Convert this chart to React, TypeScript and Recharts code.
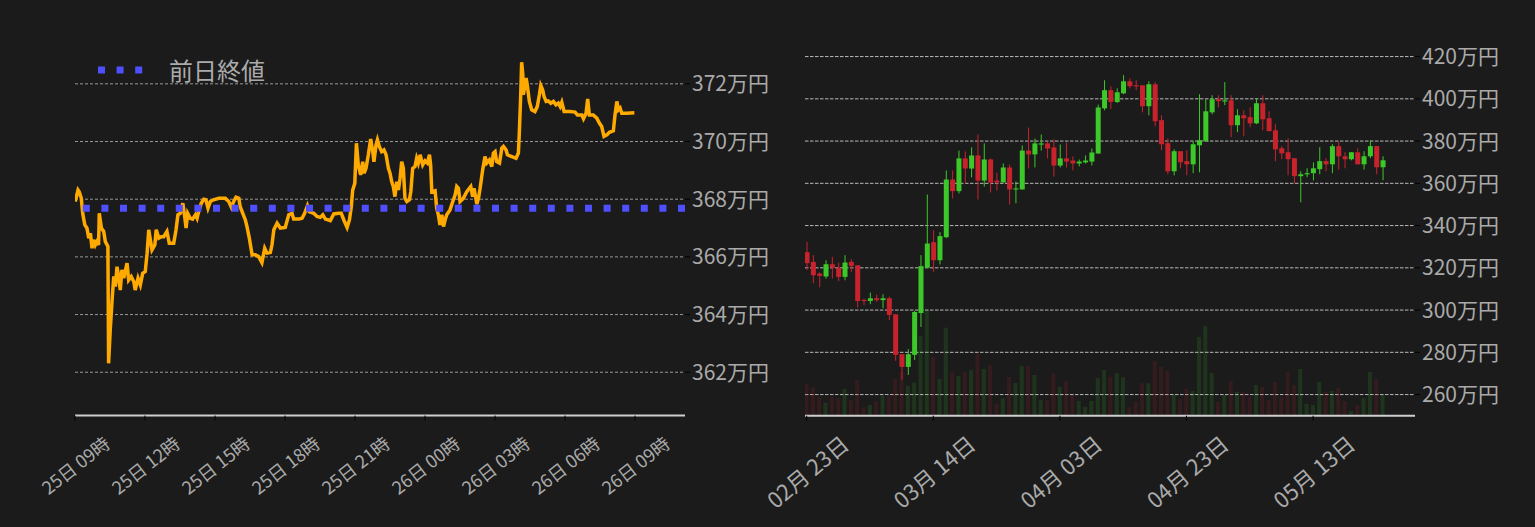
import React from 'react';
import {
  LineChart, Line, ComposedChart, Bar, XAxis, YAxis, CartesianGrid, ReferenceLine, Legend,
} from 'recharts';

// ---------- Left chart: intraday price (hours since 25日 09時) ----------
const intradayHours = [
  0.01, 0.13, 0.18, 0.27, 0.33, 0.42, 0.51, 0.59, 0.66, 0.73,
  0.80, 0.87, 0.94, 1.01, 1.04, 1.13, 1.23, 1.30, 1.41, 1.44,
  1.51, 1.59, 1.66, 1.73, 1.80, 1.87, 1.94, 2.01, 2.09, 2.23,
  2.30, 2.41, 2.52, 2.58, 2.70, 2.80, 2.90, 3.01, 3.09, 3.16,
  3.23, 3.30, 3.42, 3.48, 3.59, 3.70, 3.80, 3.94, 4.04, 4.23,
  4.33, 4.41, 4.51, 4.62, 4.70, 4.76, 4.83, 4.94, 5.04, 5.16,
  5.23, 5.30, 5.41, 5.52, 5.61, 5.70, 5.80, 5.94, 6.16, 6.44,
  6.59, 6.70, 6.80, 6.90, 7.02, 7.08, 7.19, 7.30, 7.37, 7.47,
  7.59, 7.73, 7.87, 8.01, 8.13, 8.23, 8.37, 8.44, 8.52, 8.66,
  8.80, 9.01, 9.16, 9.30, 9.37, 9.59, 9.73, 9.84, 9.96, 10.04,
  10.23, 10.37, 10.51, 10.62, 10.73, 10.94, 11.09, 11.30, 11.41, 11.52,
  11.66, 11.76, 11.84, 11.90, 11.99, 12.06, 12.14, 12.24, 12.33, 12.39,
  12.47, 12.57, 12.67, 12.76, 12.81, 12.90, 12.96, 13.04, 13.14, 13.24,
  13.33, 13.43, 13.50, 13.57, 13.64, 13.71, 13.79, 13.86, 13.93, 14.00,
  14.07, 14.14, 14.22, 14.33, 14.39, 14.47, 14.57, 14.64, 14.71, 14.79,
  14.90, 15.00, 15.10, 15.19, 15.24, 15.29, 15.43, 15.50, 15.57, 15.64,
  15.72, 15.79, 15.86, 15.93, 16.07, 16.19, 16.29, 16.36, 16.43, 16.50,
  16.64, 16.79, 16.90, 16.96, 17.04, 17.10, 17.22, 17.29, 17.36, 17.47,
  17.57, 17.64, 17.76, 17.86, 17.93, 18.00, 18.07, 18.19, 18.29, 18.36,
  18.47, 18.53, 18.72, 18.90, 19.00, 19.04, 19.10, 19.14, 19.19, 19.21,
  19.29, 19.33, 19.38, 19.47, 19.57, 19.71, 19.81, 19.90, 19.96, 20.04,
  20.10, 20.19, 20.28, 20.39, 20.50, 20.61, 20.71, 20.79, 20.86, 20.96,
  21.21, 21.43, 21.53, 21.72, 21.79, 21.90, 21.97, 22.04, 22.21, 22.36,
  22.47, 22.57, 22.67, 22.79, 22.90, 23.07, 23.14, 23.22, 23.29, 23.36,
  23.43, 23.64, 23.97,
];
const intradayPrice = [
  367.92, 368.32, 368.26, 368.03, 367.51, 367.11, 367.00, 366.65, 366.82, 366.30,
  366.59, 366.41, 366.53, 366.41, 367.51, 367.00, 366.88, 366.53, 366.36, 362.31,
  363.47, 364.50, 365.32, 364.97, 365.66, 365.32, 364.85, 365.55, 365.26, 365.78,
  365.20, 365.32, 365.14, 364.85, 365.26, 365.03, 365.43, 365.49, 366.13, 366.94,
  366.59, 366.24, 366.41, 366.94, 366.65, 366.70, 366.70, 366.88, 366.47, 366.47,
  366.94, 367.46, 367.51, 367.86, 367.40, 367.00, 367.51, 367.34, 367.31, 367.46,
  367.34, 367.57, 367.86, 368.00, 367.98, 367.69, 367.92, 367.98, 368.03, 368.03,
  367.92, 367.72, 367.92, 368.07, 368.03, 367.74, 367.51, 367.28, 367.05, 366.65,
  366.07, 366.07, 366.01, 365.80, 366.30, 366.13, 366.15, 366.41, 366.94, 367.17,
  367.00, 367.02, 367.46, 367.51, 367.31, 367.31, 367.34, 367.51, 367.77, 367.57,
  367.51, 367.40, 367.37, 367.46, 367.31, 367.26, 367.49, 367.51, 367.51, 367.28,
  367.02, 367.28, 367.74, 368.32, 368.55, 369.94, 369.19, 368.84, 369.30, 368.90,
  369.07, 369.54, 370.09, 369.65, 369.30, 369.88, 370.06, 369.83, 369.65, 369.71,
  369.54, 369.07, 368.90, 368.61, 368.44, 368.09, 368.61, 368.32, 368.73, 369.30,
  369.07, 368.03, 367.92, 367.98, 368.26, 369.07, 369.13, 369.42, 369.25, 369.54,
  369.19, 369.33, 369.25, 369.54, 369.19, 368.26, 368.29, 367.69, 367.46, 367.11,
  367.46, 367.05, 367.28, 367.46, 367.63, 367.92, 368.15, 368.44, 368.38, 367.92,
  368.03, 368.26, 368.38, 368.44, 368.09, 368.38, 367.83, 368.03, 368.38, 369.02,
  369.48, 369.25, 369.36, 369.13, 369.60, 369.65, 369.30, 369.25, 369.77, 369.83,
  369.71, 369.54, 369.48, 369.42, 369.60, 370.29, 371.62, 372.75, 372.32, 371.62,
  371.97, 372.20, 371.97, 371.39, 371.10, 371.04, 371.21, 371.62, 371.94, 371.79,
  371.56, 371.39, 371.41, 371.33, 371.39, 371.27, 371.33, 371.21, 371.36, 371.04,
  371.04, 371.02, 370.92, 370.92, 370.79, 370.98, 371.48, 370.92, 370.92, 370.81,
  370.64, 370.52, 370.18, 370.23, 370.32, 370.37, 370.92, 371.39, 371.10, 371.16,
  370.98, 370.98, 371.00,
];
const prevClose = 367.69;
const hourTicks = [0, 3, 6, 9, 12, 15, 18, 21, 24];
const hourLabels = ['25日 09時', '25日 12時', '25日 15時', '25日 18時', '25日 21時', '26日 00時', '26日 03時', '26日 06時', '26日 09時'];
const intradayPriceTicks = [362, 364, 366, 368, 370, 372];

// ---------- Right chart: daily candles (day index since 02月 23日) ----------
const candleOpen = [
  327.4, 322.8, 317.3, 315.9, 321.7, 320.1, 315.7, 322.8, 321.2, 304.8,
  304.3, 305.6, 304.7, 305.6, 298.0, 279.1, 273.1, 278.8, 298.6, 320.1,
  332.1, 323.6, 334.5, 361.8, 356.3, 371.8, 367.0, 373.2, 361.3, 371.3,
  361.3, 360.4, 367.5, 357.4, 357.1, 375.5, 373.7, 378.5, 378.9, 377.0,
  368.4, 371.8, 370.8, 369.4, 369.9, 370.3, 374.1, 395.5, 404.1, 398.5,
  402.6, 408.3, 406.4, 406.4, 396.5, 406.9, 389.9, 379.0, 365.7, 375.2,
  370.5, 369.0, 378.0, 379.9, 393.6, 399.8, 398.9, 399.3, 387.5, 392.2,
  391.3, 388.4, 397.9, 390.8, 385.1, 376.6, 374.7, 371.9, 363.4, 364.3,
  364.8, 366.7, 370.5, 369.0, 377.6, 372.8, 371.4, 374.7, 369.0, 372.8,
  377.6, 367.6,
];
const candleClose = [
  322.2, 316.5, 316.2, 321.7, 320.1, 315.7, 322.5, 320.9, 304.3, 304.3,
  305.6, 304.7, 305.6, 297.7, 278.8, 273.1, 279.1, 299.1, 320.8, 331.5,
  323.6, 335.0, 361.8, 356.3, 371.8, 367.0, 373.2, 361.3, 371.3, 360.4,
  360.4, 367.5, 357.1, 357.6, 375.5, 373.7, 378.9, 378.9, 376.5, 368.4,
  371.8, 370.3, 369.4, 370.3, 370.8, 374.6, 395.9, 404.1, 398.5, 403.1,
  408.3, 406.0, 406.0, 396.5, 406.9, 389.4, 378.5, 365.7, 375.2, 370.0,
  369.0, 378.5, 380.4, 394.1, 399.8, 398.9, 399.3, 387.5, 392.2, 390.8,
  388.4, 397.9, 390.3, 384.7, 376.1, 374.2, 371.4, 363.4, 364.3, 364.8,
  367.1, 370.5, 369.0, 377.6, 372.8, 371.4, 374.7, 369.0, 372.8, 377.6,
  367.6, 370.9,
];
const candleHigh = [
  332.3, 326.0, 317.8, 323.6, 325.2, 322.5, 326.0, 324.1, 321.2, 305.4,
  308.3, 307.3, 307.5, 306.4, 298.0, 279.1, 281.5, 299.6, 326.0, 354.7,
  337.8, 336.9, 366.1, 366.1, 375.5, 375.1, 377.0, 383.1, 378.9, 371.8,
  365.1, 369.4, 368.9, 360.9, 377.9, 386.4, 381.2, 383.1, 379.6, 380.8,
  378.4, 379.3, 372.7, 371.3, 373.2, 376.5, 397.3, 408.8, 406.0, 405.0,
  411.2, 409.7, 408.8, 406.4, 408.3, 407.9, 392.2, 381.3, 376.1, 375.2,
  375.7, 379.9, 402.2, 399.8, 401.7, 401.7, 407.9, 401.7, 395.1, 394.6,
  396.0, 400.3, 401.7, 394.1, 388.0, 377.6, 381.3, 371.9, 365.7, 367.1,
  369.9, 377.1, 371.9, 378.5, 379.9, 374.7, 374.7, 376.6, 375.2, 380.4,
  377.6, 372.8,
];
const candleLow = [
  319.0, 312.7, 310.8, 314.9, 314.9, 313.7, 314.1, 318.1, 301.2, 302.3,
  302.8, 303.9, 300.9, 295.3, 276.0, 267.0, 269.3, 276.4, 292.0, 320.0,
  318.1, 321.6, 334.0, 352.8, 355.2, 359.9, 362.8, 352.3, 358.5, 355.7,
  356.6, 360.4, 350.0, 350.6, 357.1, 367.0, 367.5, 375.5, 371.8, 363.2,
  367.5, 367.5, 366.1, 368.0, 369.4, 368.4, 374.1, 394.6, 395.2, 398.0,
  402.2, 405.0, 404.1, 393.6, 392.2, 387.0, 375.7, 364.3, 363.8, 367.1,
  363.8, 364.8, 365.2, 379.9, 392.7, 396.0, 397.0, 381.8, 384.2, 382.3,
  386.5, 388.0, 385.1, 384.7, 370.5, 371.4, 363.8, 360.0, 351.0, 362.9,
  361.4, 364.3, 365.7, 364.8, 366.5, 367.1, 370.9, 369.0, 366.5, 371.9,
  364.3, 361.5,
];
const candleVolume = [
  31.7, 28.4, 19, 13, 19, 17.4, 26.7, 15.7, 35.7, 8.4,
  10.7, 14.7, 20, 20, 36.7, 44, 30, 33, 79.7, 105.7,
  59, 36.7, 88, 43.4, 39.7, 43.4, 45.7, 62.4, 46.7, 50.7,
  11.7, 17.4, 38.7, 32.7, 49.7, 49.7, 40.7, 15.7, 15.7, 42.4,
  29, 34.7, 20.7, 14.7, 9, 14.7, 37.7, 45.7, 39, 42.4,
  38.4, 8.4, 13.7, 32.4, 32.4, 54.7, 48.7, 44.7, 20.7, 16.7,
  26.7, 24.7, 78.7, 89.7, 42.7, 14, 20.7, 34.7, 23.7, 23.7,
  19, 30.7, 28.7, 15.7, 33.7, 18.7, 43.7, 30.7, 46.7, 11.7,
  10.7, 33.7, 23.7, 24.7, 27.7, 14.7, 4.7, 10.7, 17.7, 43.7,
  36.7, 21.7,
];
const dayTicks = [0, 20, 40, 60, 80];
const dayLabels = ['02月 23日', '03月 14日', '04月 03日', '04月 23日', '05月 13日'];
const dailyPriceTicks = [260, 280, 300, 320, 340, 360, 380, 400, 420];

// ---------- styling ----------
const BG = '#1b1b1b';
const TEXT = '#aaaaaa';
const FONT = "'Noto Sans CJK JP', 'Noto Sans', sans-serif";
const ORANGE = '#ffaa00';
const BLUE = '#4f4fff';
const GREEN = '#3cc828';
const RED = '#c8232d';

const intradayData = intradayHours.map((t, i) => ({ t, p: intradayPrice[i] }));
const candleData = candleOpen.map((open, i) => ({
  day: i,
  open,
  close: candleClose[i],
  high: candleHigh[i],
  low: candleLow[i],
  vol: candleVolume[i],
}));

const makeXTick = (ticks: number[], labels: string[], fontSize: number, offset: number, angle: number) =>
  (props: any) => {
    const { x, y, payload } = props;
    const idx = ticks.indexOf(payload.value);
    return (
      <g transform={`translate(${x},${y + offset})`}>
        <text
          transform={`rotate(${angle})`}
          textAnchor="middle"
          dominantBaseline="central"
          fill={TEXT}
          fontSize={fontSize}
          fontFamily={FONT}
        >
          {idx >= 0 ? labels[idx] : ''}
        </text>
      </g>
    );
  };

const Candle = (props: any) => {
  const { x, y, width, height, payload } = props;
  if (!payload || height == null) return null;
  const { open, close, high, low } = payload;
  const up = close >= open;
  const color = up ? GREEN : RED;
  const ppu = height / (high - low);
  const yOf = (v: number) => y + (high - v) * ppu;
  const cx = x + width / 2;
  const top = yOf(Math.max(open, close));
  const bot = yOf(Math.min(open, close));
  return (
    <g>
      <line x1={cx} x2={cx} y1={y} y2={y + height} stroke={color} strokeWidth={1} />
      <rect x={x} y={top} width={width} height={Math.max(bot - top, 1.2)} fill={color} />
    </g>
  );
};

const VolumeBar = (props: any) => {
  const { x, y, width, height, payload } = props;
  if (!payload) return null;
  const up = payload.close >= payload.open;
  return <rect x={x} y={y} width={width} height={height} fill={up ? GREEN : RED} fillOpacity={0.15} />;
};

const PrevCloseLegend = () => (
  <div style={{ display: 'flex', alignItems: 'center', height: 28, whiteSpace: 'nowrap' }}>
    <svg width={45} height={8} style={{ display: 'block' }}>
      <line x1={0} x2={45} y1={4} y2={4} stroke={BLUE} strokeWidth={7} strokeDasharray="7 11.6" />
    </svg>
    <span style={{ marginLeft: 26, fontSize: 24, color: TEXT, fontFamily: FONT, lineHeight: '28px' }}>前日終値</span>
  </div>
);

export default function App() {
  return (
    <div
      style={{
        position: 'absolute', left: 0, top: 0, width: 1535, height: 527,
        background: BG, overflow: 'hidden',
      }}
    >
      <div style={{ position: 'absolute', left: 700, top: 0 }}>
        <ComposedChart width={835} height={527} data={candleData} margin={{ top: 35.45, right: 0, bottom: 0, left: 105 }}>
          <CartesianGrid
            xAxisId="p"
            yAxisId="p"
            vertical={false}
            horizontalValues={dailyPriceTicks}
            stroke="#b8b8b8"
            strokeDasharray="3.5 1.5"
            strokeWidth={1}
          />
          <XAxis
            xAxisId="p"
            dataKey="day"
            type="number"
            domain={[-0.27, 96.1]}
            ticks={dayTicks}
            interval={0}
            height={111.3}
            allowDataOverflow
            axisLine={{ stroke: '#cfcfcf', strokeWidth: 2 }}
            tickLine={{ stroke: '#000' }}
            tickSize={5}
            tick={makeXTick(dayTicks, dayLabels, 22, 48, -40)}
          />
          <XAxis xAxisId="v" dataKey="day" type="number" domain={[-0.27, 96.1]} allowDataOverflow hide />
          <YAxis
            yAxisId="p"
            orientation="right"
            domain={[250, 430]}
            ticks={dailyPriceTicks}
            interval={0}
            width={120}
            allowDataOverflow
            axisLine={false}
            tickLine={{ stroke: '#000' }}
            tickSize={5}
            tickMargin={2}
            tick={{ fill: TEXT, fontSize: 21, fontFamily: FONT }}
            tickFormatter={(v: number) => `${v}万円`}
          />
          <YAxis yAxisId="v" domain={[0, 380.25]} allowDataOverflow hide />
          <Bar xAxisId="v" yAxisId="v" dataKey="vol" barSize={4} shape={VolumeBar} isAnimationActive={false} />
          <Bar
            xAxisId="p"
            yAxisId="p"
            dataKey={(d: any) => [d.low, d.high]}
            barSize={5}
            shape={Candle}
            isAnimationActive={false}
          />
        </ComposedChart>
      </div>

      <div style={{ position: 'absolute', left: 0, top: 0 }}>
        <LineChart width={800} height={527} data={intradayData} margin={{ top: 55, right: 0, bottom: 0, left: 75 }}>
          <CartesianGrid
            vertical={false}
            horizontalValues={intradayPriceTicks}
            stroke="#b8b8b8"
            strokeDasharray="3 2"
            strokeWidth={0.8}
          />
          <XAxis
            dataKey="t"
            type="number"
            domain={[0, 26.14]}
            ticks={hourTicks}
            interval={0}
            height={111.5}
            allowDataOverflow
            axisLine={{ stroke: '#cfcfcf', strokeWidth: 2 }}
            tickLine={{ stroke: '#000' }}
            tickSize={5}
            tick={makeXTick(hourTicks, hourLabels, 18, 42, -38)}
          />
          <YAxis
            orientation="right"
            domain={[360.5, 373]}
            ticks={intradayPriceTicks}
            interval={0}
            width={115}
            allowDataOverflow
            axisLine={false}
            tickLine={{ stroke: '#000' }}
            tickSize={5}
            tickMargin={2}
            tick={{ fill: TEXT, fontSize: 21, fontFamily: FONT }}
            tickFormatter={(v: number) => `${v}万円`}
          />
          <Legend
            layout="vertical"
            align="center"
            verticalAlign="middle"
            wrapperStyle={{ position: 'absolute', left: 98, top: 56, width: 220, height: 28 }}
            content={() => <PrevCloseLegend />}
          />
          <Line
            dataKey="p"
            type="linear"
            stroke={ORANGE}
            strokeWidth={3.5}
            dot={false}
            activeDot={false}
            isAnimationActive={false}
          />
          <ReferenceLine y={prevClose} stroke={BLUE} strokeWidth={7} strokeDasharray="7 11.6" />
        </LineChart>
      </div>
    </div>
  );
}
